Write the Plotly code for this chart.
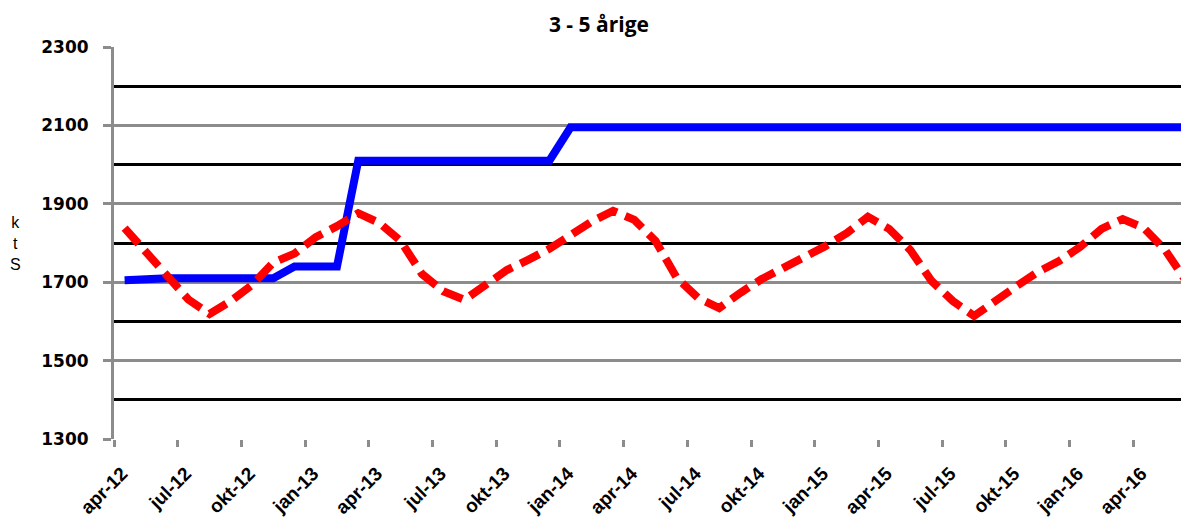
import plotly.graph_objects as go

# Månedlige observationer apr-12 .. jun-16
maaneder = [
    "apr-12", "maj-12", "jun-12", "jul-12", "aug-12", "sep-12", "okt-12", "nov-12", "dec-12",
    "jan-13", "feb-13", "mar-13", "apr-13", "maj-13", "jun-13", "jul-13", "aug-13", "sep-13",
    "okt-13", "nov-13", "dec-13", "jan-14", "feb-14", "mar-14", "apr-14", "maj-14", "jun-14",
    "jul-14", "aug-14", "sep-14", "okt-14", "nov-14", "dec-14", "jan-15", "feb-15", "mar-15",
    "apr-15", "maj-15", "jun-15", "jul-15", "aug-15", "sep-15", "okt-15", "nov-15", "dec-15",
    "jan-16", "feb-16", "mar-16", "apr-16", "maj-16", "jun-16",
]

blaa_serie = [
    1705, 1710, 1710, 1710, 1710, 1710, 1710, 1710, 1740, 1740,
    1740, 2010, 2010, 2010, 2010, 2010, 2010, 2010, 2010, 2010,
    2010, 2095, 2095, 2095, 2095, 2095, 2095, 2095, 2095, 2095,
    2095, 2095, 2095, 2095, 2095, 2095, 2095, 2095, 2095, 2095,
    2095, 2095, 2095, 2095, 2095, 2095, 2095, 2095, 2095, 2095,
    2095,
]

roed_serie = [
    1838, 1777, 1711, 1656, 1619, 1652, 1693, 1750, 1773, 1815,
    1843, 1876, 1851, 1805, 1721, 1677, 1655, 1693, 1731, 1757,
    1785, 1820, 1855, 1882, 1859, 1805, 1711, 1660, 1634, 1673,
    1708, 1736, 1762, 1792, 1825, 1867, 1836, 1782, 1703, 1652,
    1614, 1655, 1690, 1726, 1754, 1790, 1836, 1861, 1838, 1782,
    1701,
]

# kvartalsvise aksemærker
kvartal_etiketter = maaneder[::3]
y_etiketter = [1300, 1500, 1700, 1900, 2100, 2300]

GRAA = "#8c8c8c"

x = list(range(len(maaneder)))
kvartal_pos = [i - 0.5 for i in range(0, len(maaneder), 3)]

fig = go.Figure()

fig.add_trace(
    go.Scatter(
        x=x,
        y=blaa_serie,
        mode="lines",
        line=dict(color="#0000ff", width=8),
        text=maaneder,
        showlegend=False,
    )
)

fig.add_trace(
    go.Scatter(
        x=x,
        y=roed_serie,
        mode="lines",
        line=dict(color="#ff0000", width=8, dash="21px,9px"),
        text=maaneder,
        showlegend=False,
    )
)

# lodret aksetitel, stablede tegn
fig.add_annotation(
    text="k<br>t<br>S",
    xref="paper",
    yref="paper",
    x=-0.092,
    y=0.50,
    xanchor="center",
    yanchor="middle",
    showarrow=False,
    font=dict(family="Liberation Sans", size=16, color="black"),
)

# siden har 8px body-margen, derfor l/t/r justeret
fig.update_layout(
    title=dict(
        text="<b>3 - 5 årige</b>",
        x=0.497,
        xanchor="center",
        y=0.968,
        yanchor="middle",
        automargin=False,
        font=dict(family="Open Sans", size=21, color="black"),
    ),
    width=1189,
    height=523,
    margin=dict(l=106, r=8, t=39, b=92, autoexpand=False),
    plot_bgcolor="white",
    paper_bgcolor="white",
    xaxis=dict(
        range=[-0.5, 50.12],
        tickvals=kvartal_pos,
        ticktext=kvartal_etiketter,
        tickangle=-45,
        ticks="outside",
        ticklen=7,
        tickwidth=3,
        tickcolor=GRAA,
        showgrid=False,
        zeroline=False,
        showline=False,
        automargin=False,
        ticklabelstandoff=8,
        ticklabelshift=8,
        tickfont=dict(family="Liberation Sans", size=19, color="black", weight="bold"),
    ),
    yaxis=dict(
        range=[1300, 2300],
        tickvals=y_etiketter,
        ticks="outside",
        ticklen=8,
        tickwidth=3,
        tickcolor=GRAA,
        showgrid=True,
        gridcolor=GRAA,
        gridwidth=3,
        zeroline=False,
        showline=True,
        linecolor=GRAA,
        linewidth=3,
        automargin=False,
        ticklabelstandoff=11,
        tickfont=dict(family="DejaVu Sans", size=17, color="black", weight="bold"),
        minor=dict(dtick=100, tick0=1300, showgrid=True, gridcolor="black", gridwidth=3),
    ),
)

fig.write_html("out.html")
